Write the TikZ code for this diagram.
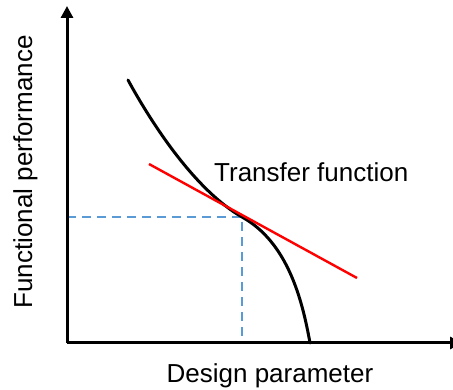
\documentclass[tikz,border=0pt]{standalone}
\usepackage{fontspec}
\setmainfont{Liberation Sans}
\usetikzlibrary{arrows.meta}
\definecolor{dashblue}{RGB}{91,155,213}
\begin{document}
\begin{tikzpicture}[x=1pt,y=-1pt,
  axis/.style={line width=3pt,-{Triangle[length=12pt,width=12pt]}},
  curve/.style={line width=3pt,line cap=round},
  tangent/.style={line width=2.4pt,red},
  guide/.style={line width=2pt,dashblue,dash pattern=on 9pt off 6pt},
  lbl/.style={inner sep=0pt,font=\fontsize{26}{31}\selectfont}]
\useasboundingbox (0,0) rectangle (453,390);
\coordinate (O) at (67,343);
\coordinate (ytop) at (67,6);
\coordinate (xend) at (462,343);
\coordinate (c0) at (128,80);
\coordinate (P) at (242,217);
\coordinate (c1) at (310,343);
\coordinate (r0) at (149,164);
\coordinate (r1) at (357,278);
\coordinate (hy) at (67,217);
\coordinate (vx) at (242,343);
\draw[guide] (hy) -- (P) -- (vx);
\draw[curve] (c0) .. controls (152,124) and (195,190) .. (P)
  .. controls (287,242) and (302,298) .. (c1);
\draw[tangent] (r0) -- (r1);
\draw[axis] (O) -- (ytop);
\draw[axis] (O) -- (xend);
\node[lbl,anchor=base west] (tf) at (214,182) {Transfer function};
\node[lbl,anchor=base] (dp) at (270,382) {Design parameter};
\node[lbl,anchor=base,rotate=90] (fp) at (32,172) {Functional performance};
\end{tikzpicture}
\end{document}
